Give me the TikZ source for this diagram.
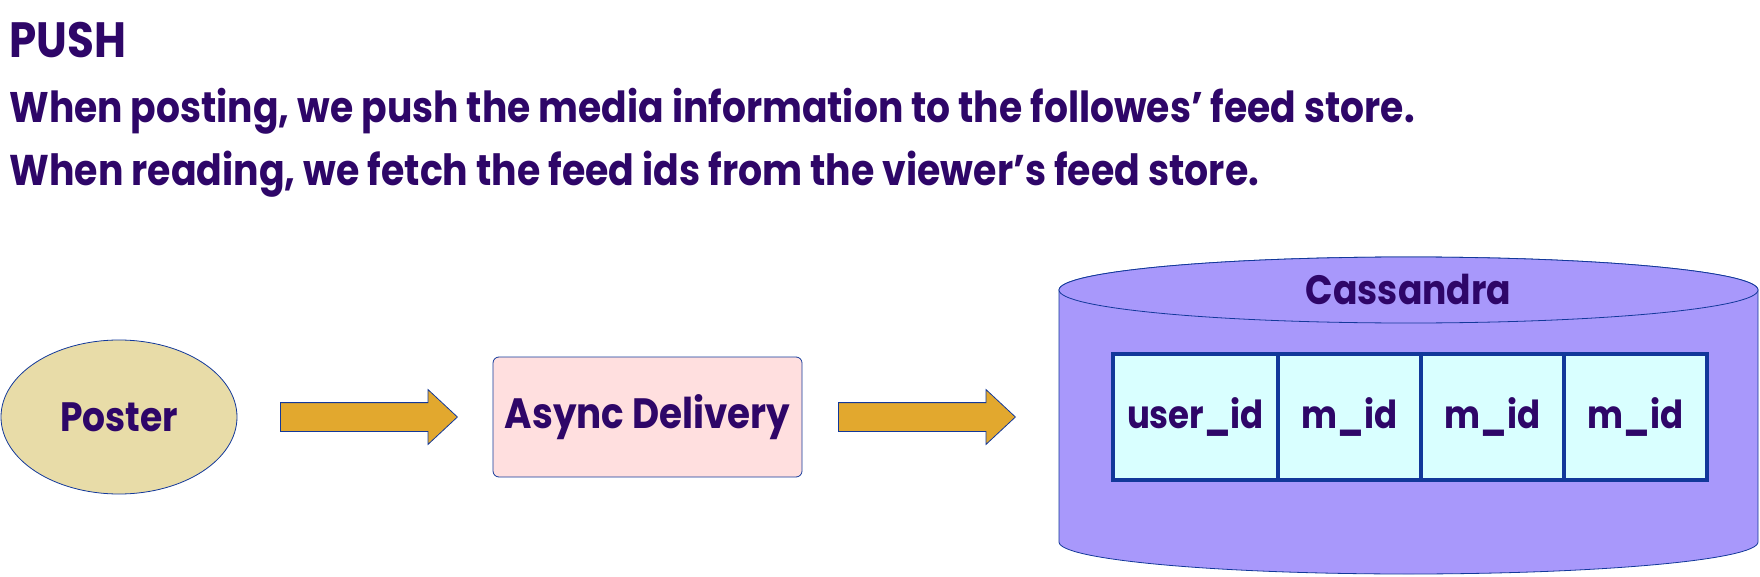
\documentclass[tikz,border=0pt]{standalone}
\usepackage{fontspec}
\setmainfont{Poppins}[FakeStretch=0.88]
\usepackage{tikz}
\usetikzlibrary{positioning,shapes,arrows.meta,calc}
\definecolor{Ink}{HTML}{2E0668}
\definecolor{Edge}{HTML}{12389A}
\definecolor{Sand}{HTML}{E8DCA8}
\definecolor{Blush}{HTML}{FFDFDF}
\definecolor{Gold}{HTML}{E2A82E}
\definecolor{Lilac}{HTML}{A898FB}
\definecolor{Ice}{HTML}{D9FFFF}
\tikzstyle{txt}=[%
      text=Ink, font=\bfseries\fontsize{20.5}{24}\selectfont, inner sep=0pt
]
\tikzstyle{src}=[%
      ellipse, draw=Edge, fill=Sand, txt,
      minimum width=118pt, minimum height=77pt
]
\tikzstyle{proc}=[%
      rectangle, rounded corners=3pt, draw=Edge, fill=Blush, txt,
      font=\bfseries\fontsize{21.2}{24}\selectfont,
      minimum width=154.5pt, minimum height=60pt
]
\tikzstyle{fat}=[%
      single arrow, draw=Edge, fill=Gold, inner sep=0pt, anchor=tail,
      text height=14pt, text depth=0pt,
      minimum width=27pt, single arrow head extend=6.5pt,
      single arrow tip angle=86, minimum height=88.5pt
]
\tikzstyle{cell}=[%
      rectangle, draw=Edge, line width=1.6pt, fill=Ice, txt, outer sep=0pt,
      font=\bfseries\fontsize{19.3}{24}\selectfont,
      minimum height=63pt, minimum width=71.5pt
]

\begin{document}
\begin{tikzpicture}[x=0.5pt, y=-0.5pt]
    \useasboundingbox (0,0) rectangle (1760,577);

    \node[txt, anchor=base west, font=\bfseries\fontsize{24.8}{30}\selectfont] (title) at (9,58) {PUSH};
    \node[txt, anchor=base west, font=\bfseries\fontsize{21.4}{24}\selectfont] (line1) at (9,123)
        {When posting, we push the media information to the followes’ feed store.};
    \node[txt, anchor=base west, font=\bfseries\fontsize{21.5}{24}\selectfont] (line2) at (9,186)
        {When reading, we fetch the feed ids from the viewer’s feed store.};

    \node[src]  (poster) at (119,417)   {Poster};
    \node[proc] (async)  at (647.5,417) {Async Delivery};
    \node[fat]  (arr1)   at (280,417)   {};
    \node[fat]  (arr2)   at (838,417)   {};

    % cassandra store
    \path[fill=Lilac, draw=Edge] (1059,290) -- (1059,542)
        arc[start angle=180, end angle=360, x radius=174.75pt, y radius=16pt]
        -- (1758,290)
        arc[start angle=0, end angle=180, x radius=174.75pt, y radius=16.5pt];
    \draw[Edge, fill=Lilac] (1408.5,290) ellipse[x radius=174.75pt, y radius=16.5pt];
    \node[txt, anchor=base] (store) at (1408.5,304) {Cassandra};

    \node[cell, minimum width=82.5pt] (uid) at (1195.5,417) {user\_id};
    \node[cell] (m1) [right = 0pt of uid] {m\_id};
    \node[cell] (m2) [right = 0pt of m1]  {m\_id};
    \node[cell] (m3) [right = 0pt of m2]  {m\_id};
\end{tikzpicture}
\end{document}
